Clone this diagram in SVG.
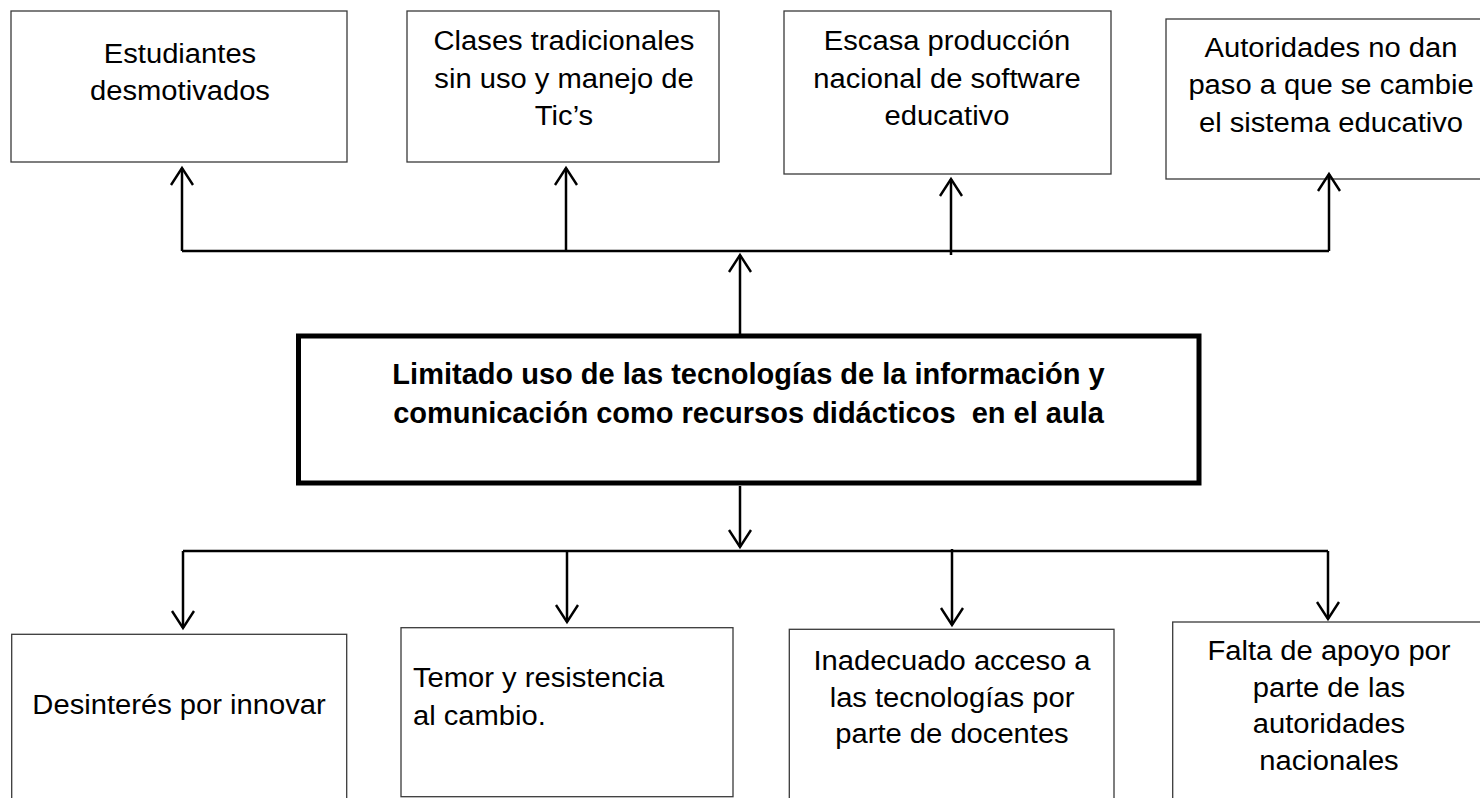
<svg xmlns="http://www.w3.org/2000/svg" width="1480" height="798" viewBox="0 0 1480 798">
<style>
.box{fill:#fff;stroke:#3a3a3a;stroke-width:1.3}
.main{fill:#fff;stroke:#000;stroke-width:5}
.t{font-family:"Liberation Sans",Arial,sans-serif;font-size:27px;fill:#000;text-anchor:middle}
.tl{font-family:"Liberation Sans",Arial,sans-serif;font-size:27px;fill:#000;text-anchor:start}
.b{font-family:"Liberation Sans",Arial,sans-serif;font-size:29px;font-weight:bold;fill:#000;text-anchor:middle;white-space:pre}
.c{fill:none;stroke:#000;stroke-width:2.5}
</style>
<defs>
<marker id="open" viewBox="-20 -13 22 26" markerWidth="22" markerHeight="26" refX="0" refY="0" orient="auto" markerUnits="userSpaceOnUse" overflow="visible">
<path d="M-17,-11 L0,0 L-17,11" fill="none" stroke="#000" stroke-width="2.4"/>
</marker>
</defs>

<g id="efecto1">
<rect class="box" x="11" y="11" width="336" height="151"/>
<text class="t" transform="translate(180,62.7) scale(1.08,1)">Estudiantes</text>
<text class="t" transform="translate(180,100) scale(1.08,1)">desmotivados</text>
</g>
<g id="efecto2">
<rect class="box" x="407" y="11" width="312" height="151"/>
<text class="t" transform="translate(564,50) scale(1.08,1)">Clases tradicionales</text>
<text class="t" transform="translate(564,87.5) scale(1.08,1)">sin uso y manejo de</text>
<text class="t" transform="translate(564,125) scale(1.08,1)">Tic’s</text>
</g>
<g id="efecto3">
<rect class="box" x="784" y="11" width="327" height="163"/>
<text class="t" transform="translate(947,50) scale(1.08,1)">Escasa producción</text>
<text class="t" transform="translate(947,88) scale(1.08,1)">nacional de software</text>
<text class="t" transform="translate(947,125) scale(1.08,1)">educativo</text>
</g>
<g id="efecto4">
<rect class="box" x="1166" y="19" width="330" height="160"/>
<text class="t" transform="translate(1331,56.7) scale(1.08,1)">Autoridades no dan</text>
<text class="t" transform="translate(1331,94.3) scale(1.08,1)">paso a que se cambie</text>
<text class="t" transform="translate(1331,131.7) scale(1.08,1)">el sistema educativo</text>
</g>

<g id="problema">
<rect class="main" x="298.5" y="336" width="900.5" height="147"/>
<text class="b" x="748.5" y="384" xml:space="preserve">Limitado uso de las tecnologías de la información y</text>
<text class="b" x="748.5" y="423.3" xml:space="preserve">comunicación como recursos didácticos  en el aula</text>
</g>

<g id="causa1">
<rect class="box" x="11.7" y="634.3" width="335" height="180"/>
<text class="t" transform="translate(179,714) scale(1.08,1)">Desinterés por innovar</text>
</g>
<g id="causa2">
<rect class="box" x="401" y="627.7" width="332" height="169"/>
<text class="tl" transform="translate(413,686.7) scale(1.08,1)">Temor y resistencia</text>
<text class="tl" transform="translate(413,725) scale(1.08,1)">al cambio.</text>
</g>
<g id="causa3">
<rect class="box" x="789.3" y="629.3" width="324.7" height="190"/>
<text class="t" transform="translate(952,670) scale(1.08,1)">Inadecuado acceso a</text>
<text class="t" transform="translate(952,706.7) scale(1.08,1)">las tecnologías por</text>
<text class="t" transform="translate(952,742.7) scale(1.08,1)">parte de docentes</text>
</g>
<g id="causa4">
<rect class="box" x="1172.7" y="622" width="320" height="200"/>
<text class="t" transform="translate(1329,660) scale(1.08,1)">Falta de apoyo por</text>
<text class="t" transform="translate(1329,697.3) scale(1.08,1)">parte de las</text>
<text class="t" transform="translate(1329,733.3) scale(1.08,1)">autoridades</text>
<text class="t" transform="translate(1329,770) scale(1.08,1)">nacionales</text>
</g>

<g id="conectores">
<path class="c" d="M182,251 H1329"/>
<path class="c" d="M182,251 V168" marker-end="url(#open)"/>
<path class="c" d="M566,251 V168" marker-end="url(#open)"/>
<path class="c" d="M951,255 V179" marker-end="url(#open)"/>
<path class="c" d="M1329,251 V174" marker-end="url(#open)"/>
<path class="c" d="M740,336 V255" marker-end="url(#open)"/>
<path class="c" d="M740,486 V547" marker-end="url(#open)"/>
<path class="c" d="M183,551 H1328"/>
<path class="c" d="M183,551 V628" marker-end="url(#open)"/>
<path class="c" d="M567,551 V622" marker-end="url(#open)"/>
<path class="c" d="M952,549 V625" marker-end="url(#open)"/>
<path class="c" d="M1328,551 V619" marker-end="url(#open)"/>
</g>
</svg>
